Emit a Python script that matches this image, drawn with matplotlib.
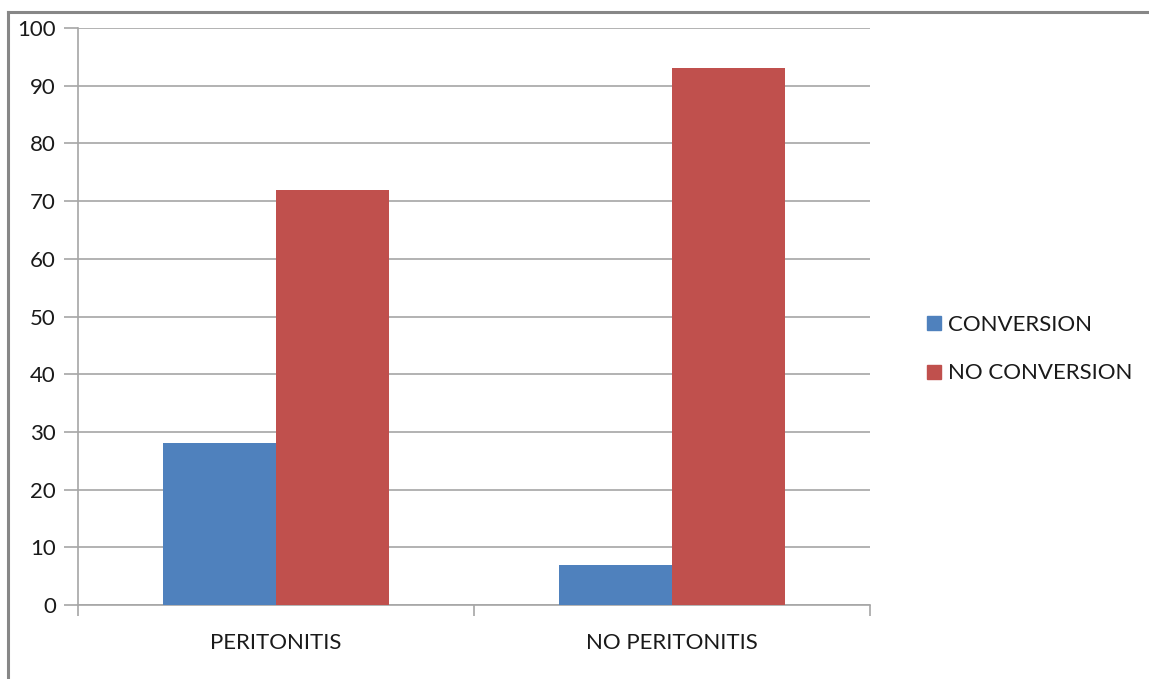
import matplotlib
matplotlib.use('Agg')
import numpy as np
from matplotlib import pyplot as plt
from matplotlib.lines import Line2D

categories = ['PERITONITIS', 'NO PERITONITIS']
conversion = [28, 7]
no_conversion = [72, 93]
series_names = ['CONVERSION', 'NO CONVERSION']
yticks = list(range(0, 101, 10))

blue = '#4F81BD'
red = '#C0504D'
grid_col = '#A6A6A6'
txt = '#1a1a1a'

plt.rcParams['font.family'] = ['Lato', 'DejaVu Sans']

fig = plt.figure(figsize=(11.49, 6.79), dpi=100)
ax = fig.add_axes([78/1149, 1 - 605/679, (870-78)/1149, (605-28)/679])

x = np.arange(len(categories))
w = 0.285
ax.bar(x - w/2, conversion, w, color=blue, zorder=3)
ax.bar(x + w/2, no_conversion, w, color=red, zorder=3)

ax.set_xlim(-0.5, 1.5)
ax.set_ylim(0, 100)
ax.set_yticks(yticks)
ax.yaxis.grid(True, color=grid_col, lw=1.2, zorder=0)
ax.tick_params(axis='y', length=10, color=grid_col, width=1.2, labelsize=16, pad=6, labelcolor=txt)
ax.set_xticks(x)
ax.set_xticklabels(categories, fontsize=16, color=txt)
ax.tick_params(axis='x', length=0, pad=20)
ax.set_xticks([-0.5, 0.5, 1.5], minor=True)
ax.tick_params(axis='x', which='minor', length=8, color=grid_col, width=1.2)

for s in ['top', 'right']:
    ax.spines[s].set_visible(False)
for s in ['left', 'bottom']:
    ax.spines[s].set_color(grid_col)
    ax.spines[s].set_linewidth(1.2)

handles = [Line2D([], [], marker='s', ls='', color=c, markersize=10) for c in (blue, red)]
fig.legend(handles, series_names, loc='center left', bbox_to_anchor=(905/1149, 1 - 349/679),
           frameon=False, fontsize=16, handlelength=0.8, handletextpad=0.25, labelspacing=1.3,
           labelcolor=txt)

# outer frame lines (top and left)
fig.add_artist(Line2D([8/1149, 1], [1 - 12/679, 1 - 12/679], color='#878787', lw=2.2))
fig.add_artist(Line2D([8/1149, 8/1149], [0, 1 - 12/679], color='#878787', lw=2.2))

fig.savefig('out.png', dpi=100)
